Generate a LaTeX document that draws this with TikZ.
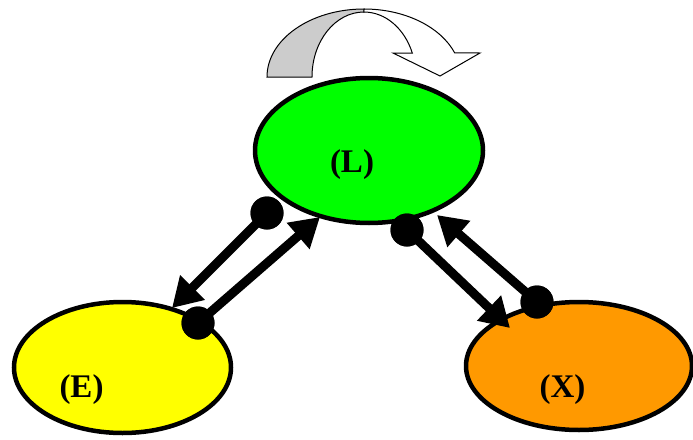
\documentclass[tikz,border=0pt]{standalone}
\usepackage{fontspec}
\setmainfont{Liberation Serif}
\usetikzlibrary{shapes.geometric,arrows.meta}
\definecolor{cgreen}{RGB}{0,255,0}
\definecolor{cyellow}{RGB}{255,255,0}
\definecolor{corange}{RGB}{255,153,0}
\definecolor{cgray}{RGB}{204,204,204}
\tikzset{
  blob/.style={ellipse, draw=black, line width=4.5pt, inner sep=0pt},
  lab/.style={anchor=base, inner sep=0pt, font=\fontsize{33}{33}\selectfont\bfseries},
  dot/.style={circle, fill=black, minimum size=33pt, inner sep=0pt},
  conn/.style={line width=9pt, -{Triangle[length=29pt,width=33pt]}},
  band/.style={draw=black, line width=1pt, line join=miter}
}
\begin{document}
\begin{tikzpicture}[x=1pt,y=-1pt]
\useasboundingbox (0,0) rectangle (693,439);
% ellipses
\node[blob, fill=cgreen, minimum width=228pt, minimum height=145pt] (L) at (369,150.5) {};
\node[blob, fill=cyellow, minimum width=217pt, minimum height=131pt] (E) at (122.5,367.5) {};
\node[blob, fill=corange, minimum width=226pt, minimum height=128pt] (X) at (579,366) {};
% labels
\node[lab] (Ll) at (352,172) {(L)};
\node[lab] (El) at (81.5,397) {(E)};
\node[lab] (Xl) at (562.5,397) {(X)};
% curved arrow
\draw[band, fill=cgray] (267,77) arc[start angle=180,end angle=270,x radius=97,y radius=68]
  -- (364,12) arc[start angle=270,end angle=180,x radius=52,y radius=65] -- cycle;
\draw[band, fill=white] (364,9) arc[start angle=270,end angle=339.3,x radius=97,y radius=68]
  -- (480,53) -- (440,76) -- (393,53)
  -- (412.3,53) arc[start angle=338.3,end angle=270,x radius=52,y radius=65] -- cycle;
% connectors
\node[dot] (d1) at (267,213) {};
\node[dot] (d2) at (198,323) {};
\node[dot] (d3) at (407,230) {};
\node[dot] (d4) at (537,302) {};
\coordinate (t1) at (172,308);
\coordinate (t2) at (320,217);
\coordinate (t3) at (510,328);
\coordinate (t4) at (437,215);
\draw[conn] (d1.center) -- (t1);
\draw[conn] (d2.center) -- (t2);
\draw[conn] (d3.center) -- (t3);
\draw[conn] (d4.center) -- (t4);
\node[dot] at (d1) {};
\node[dot] at (d2) {};
\node[dot] at (d3) {};
\node[dot] at (d4) {};
\end{tikzpicture}
\end{document}
